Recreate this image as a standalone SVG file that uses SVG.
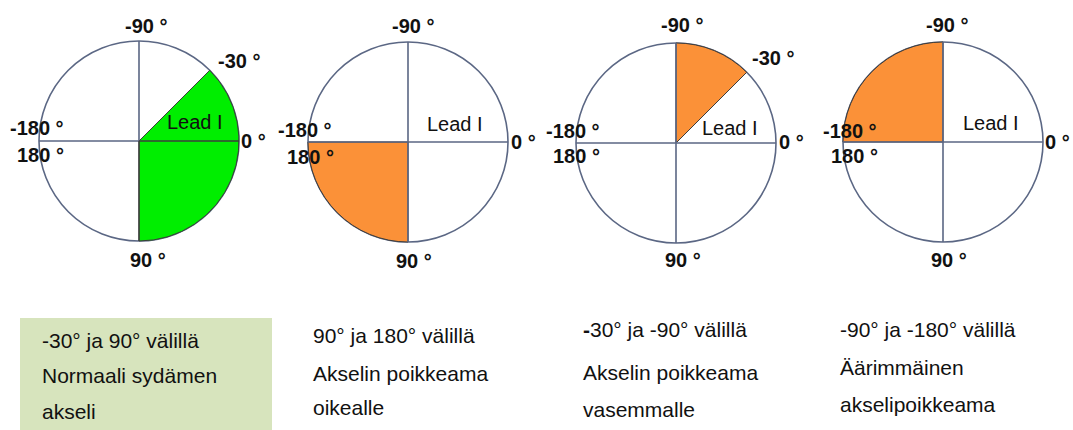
<svg xmlns="http://www.w3.org/2000/svg" width="1073" height="430" viewBox="0 0 1073 430">
<style>
.circ{fill:#fff;stroke:#5b6784;stroke-width:1.6}
.ax{stroke:#5b6784;stroke-width:1.6;fill:none}
.sec{stroke:#3c3c3c;stroke-width:1}
.g{fill:#00ee00}
.o{fill:#fb9138}
.deg{font-family:"Liberation Sans",Arial,sans-serif;font-weight:bold;font-size:20px;fill:#111}
.lead{font-family:"Liberation Sans",Arial,sans-serif;font-size:20px;fill:#111}
.cap{font-family:"Liberation Sans",Arial,sans-serif;font-size:21px;fill:#111}
</style>
<rect width="1073" height="430" fill="#fff"/>
<g id="circle1">
<circle class="circ" cx="139" cy="141" r="100"/>
<path class="sec g" d="M139,141L209.7,70.3A100,100 0 0 1 139,241Z"/>
<path class="ax" d="M39,141H139M139,41V141"/>
<path d="M139,141H239M139,141V241" stroke="#3c3c3c" stroke-width="1.4"/>
<text class="deg" x="125" y="33">-90 °</text>
<text class="deg" x="218" y="68">-30 °</text>
<text class="lead" x="167" y="129">Lead I</text>
<text class="deg" x="10" y="135">-180 °</text>
<text class="deg" x="17" y="162">180 °</text>
<text class="deg" x="241" y="148">0 °</text>
<text class="deg" x="130" y="267">90 °</text>
</g>
<g id="circle2">
<circle class="circ" cx="408" cy="142" r="100"/>
<path class="sec o" d="M408,142L408,242A100,100 0 0 1 308,142Z"/>
<path class="ax" d="M308,142H508M408,42V242"/>
<text class="deg" x="392" y="33">-90 °</text>
<text class="lead" x="427" y="131">Lead I</text>
<text class="deg" x="278" y="137">-180 °</text>
<text class="deg" x="287" y="164">180 °</text>
<text class="deg" x="511" y="149">0 °</text>
<text class="deg" x="396" y="268">90 °</text>
</g>
<g id="circle3">
<circle class="circ" cx="676" cy="143" r="100"/>
<path class="sec o" d="M676,143L676,43A100,100 0 0 1 746.7,72.3Z"/>
<path class="ax" d="M576,143H776M676,43V243"/>
<text class="deg" x="661" y="32">-90 °</text>
<text class="deg" x="752" y="65">-30 °</text>
<text class="lead" x="702" y="135">Lead I</text>
<text class="deg" x="546" y="138">-180 °</text>
<text class="deg" x="553" y="163">180 °</text>
<text class="deg" x="779" y="149">0 °</text>
<text class="deg" x="665" y="267">90 °</text>
</g>
<g id="circle4">
<circle class="circ" cx="943" cy="142" r="100"/>
<path class="sec o" d="M943,142L843,142A100,100 0 0 1 943,42Z"/>
<path class="ax" d="M843,142H1043M943,42V242"/>
<text class="deg" x="926" y="32">-90 °</text>
<text class="lead" x="963" y="130">Lead I</text>
<text class="deg" x="823" y="138">-180 °</text>
<text class="deg" x="831" y="163">180 °</text>
<text class="deg" x="1045" y="149">0 °</text>
<text class="deg" x="931" y="267">90 °</text>
</g>
<g id="caption1">
<rect x="20" y="318" width="252" height="112" fill="#d7e4bd"/>
<text class="cap" x="42" y="348">-30° ja 90° välillä</text>
<text class="cap" x="42" y="383">Normaali sydämen</text>
<text class="cap" x="42" y="419">akseli</text>
</g>
<g id="caption2">
<text class="cap" x="313" y="343">90° ja 180° välillä</text>
<text class="cap" x="313" y="381">Akselin poikkeama</text>
<text class="cap" x="313" y="415">oikealle</text>
</g>
<g id="caption3">
<text class="cap" x="583" y="337"><tspan font-weight="bold">-</tspan>30° ja -90° välillä</text>
<text class="cap" x="583" y="380">Akselin poikkeama</text>
<text class="cap" x="583" y="417">vasemmalle</text>
</g>
<g id="caption4">
<text class="cap" x="840" y="337">-90° ja -180° välillä</text>
<text class="cap" x="840" y="375">Äärimmäinen</text>
<text class="cap" x="840" y="412">akselipoikkeama</text>
</g>
</svg>
